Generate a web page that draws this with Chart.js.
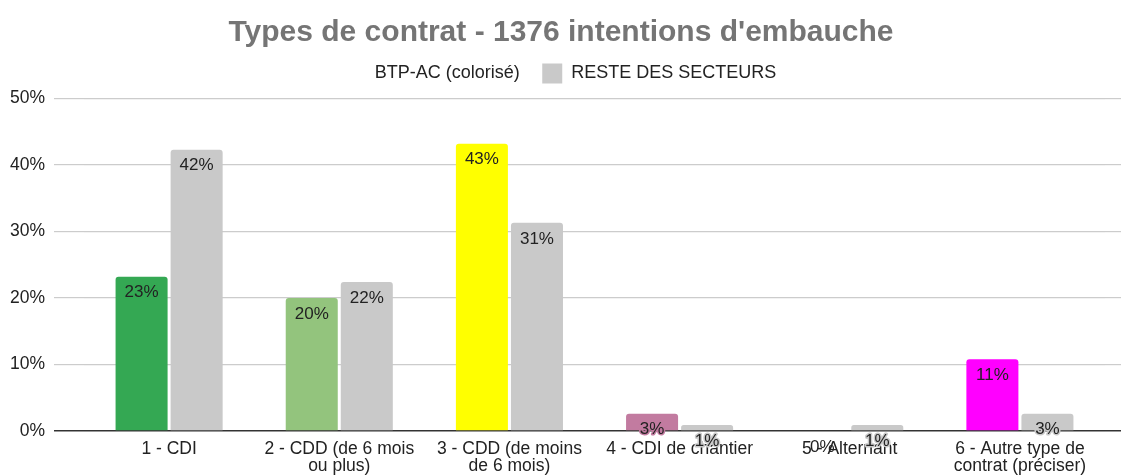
<!DOCTYPE html>
<html>
<head>
<meta charset="utf-8">
<script src="https://cdn.jsdelivr.net/npm/chart.js@4"></script>
<style>
  html, body { margin: 0; padding: 0; background: #fff; }
  #wrap { width: 1121px; height: 475px; }
</style>
</head>
<body>
<div id="wrap"><canvas id="contratChart"></canvas></div>
<script>
var categories = [
    ["1 - CDI"],
    ["2 - CDD (de 6 mois", "ou plus)"],
    ["3 - CDD (de moins", "de 6 mois)"],
    ["4 - CDI de chantier"],
    ["5 - Alternant"],
    ["6 - Autre type de", "contrat (préciser)"]
];
var btpValues = [23.2, 20.0, 43.2, 2.6, 0, 10.8];
var resteValues = [42.3, 22.4, 31.3, 0.9, 0.9, 2.6];
var btpColors = ["#34a853", "#93c47d", "#ffff00", "#c27ba0", "#4285f4", "#ff00ff"];
var yTicks = [0, 10, 20, 30, 40, 50];

var FONT = "'Liberation Sans', Arial, sans-serif";

// étiquettes de valeur en haut de chaque barre
var barLabels = {
    id: "barLabels",
    afterDatasetsDraw(chart) {
        var ctx = chart.ctx;
        ctx.save();
        ctx.font = "17px " + FONT;
        ctx.textAlign = "center";
        ctx.textBaseline = "middle";
        ctx.lineJoin = "round";
        chart.data.datasets.forEach((ds, i) => {
            chart.getDatasetMeta(i).data.forEach((bar, j) => {
                var txt = Math.round(ds.data[j]) + "%";
                var col = Array.isArray(ds.backgroundColor) ? ds.backgroundColor[j] : ds.backgroundColor;
                if (ds.data[j] === 0) col = "rgba(0,0,0,0)";
                ctx.lineWidth = 3;
                ctx.strokeStyle = col;
                ctx.strokeText(txt, bar.x, bar.y + 16);
                ctx.fillStyle = "#222";
                ctx.fillText(txt, bar.x, bar.y + 16);
            });
        });
        ctx.restore();
    }
};

new Chart("contratChart", {
    type: "bar",
    data: {
        labels: categories,
        datasets: [{
            label: "BTP-AC (colorisé)",
            data: btpValues,
            backgroundColor: btpColors,
            borderRadius: { topLeft: 3, topRight: 3 },
            borderSkipped: "bottom",
            categoryPercentage: 0.647,
            barPercentage: 0.945
        }, {
            label: "RESTE DES SECTEURS",
            data: resteValues,
            backgroundColor: "#c9c9c9",
            borderRadius: { topLeft: 3, topRight: 3 },
            borderSkipped: "bottom",
            categoryPercentage: 0.647,
            barPercentage: 0.945
        }]
    },
    options: {
        responsive: true,
        maintainAspectRatio: false,
        animation: false,
        layout: { padding: { left: 1, right: 0, top: 4, bottom: -9 } },
        plugins: {
            title: {
                display: true,
                text: "Types de contrat - 1376 intentions d'embauche",
                color: "#757575",
                font: { family: FONT, size: 30, weight: "bold" },
                padding: { top: 11, bottom: -10 }
            },
            legend: {
                labels: {
                    color: "#222",
                    font: { family: FONT, size: 18 },
                    boxWidth: 20,
                    boxHeight: 20,
                    padding: 22.5,
                    generateLabels(chart) {
                        return [
                            { text: "BTP-AC (colorisé)", fillStyle: "rgba(0,0,0,0)", strokeStyle: "rgba(0,0,0,0)", lineWidth: 0, fontColor: "#222", datasetIndex: 0 },
                            { text: "RESTE DES SECTEURS", fillStyle: "#c9c9c9", strokeStyle: "#c9c9c9", lineWidth: 0, fontColor: "#222", datasetIndex: 1 }
                        ];
                    }
                }
            },
            tooltip: { enabled: false }
        },
        scales: {
            x: {
                grid: { display: false, drawTicks: false },
                border: { display: false },
                ticks: {
                    color: "#222",
                    font: { family: FONT, size: 17.5, lineHeight: 1.0 },
                    maxRotation: 0,
                    autoSkip: false,
                    padding: 9
                }
            },
            y: {
                min: 0,
                max: 50.75,
                afterBuildTicks(axis) {
                    axis.ticks = yTicks.map(v => ({ value: v }));
                },
                border: { display: false },
                grid: {
                    color: ctx => ctx.tick && ctx.tick.value === 0 ? "#333" : "#cccccc",
                    lineWidth: ctx => ctx.tick && ctx.tick.value === 0 ? 1.5 : 1.2,
                    tickLength: 30
                },
                ticks: {
                    color: "#222",
                    font: { family: FONT, size: 17.5 },
                    padding: 9,
                    callback: v => v + "%"
                }
            },
            yRight: {
                position: "right",
                min: 0,
                max: 50.75,
                afterBuildTicks(axis) {
                    axis.ticks = yTicks.map(v => ({ value: v }));
                },
                border: { display: false },
                grid: {
                    drawOnChartArea: false,
                    color: ctx => ctx.tick && ctx.tick.value === 0 ? "#333" : "#cccccc",
                    lineWidth: ctx => ctx.tick && ctx.tick.value === 0 ? 1.5 : 1.2,
                    tickLength: 16
                },
                ticks: { display: false }
            }
        }
    },
    plugins: [barLabels]
});
</script>
</body>
</html>
